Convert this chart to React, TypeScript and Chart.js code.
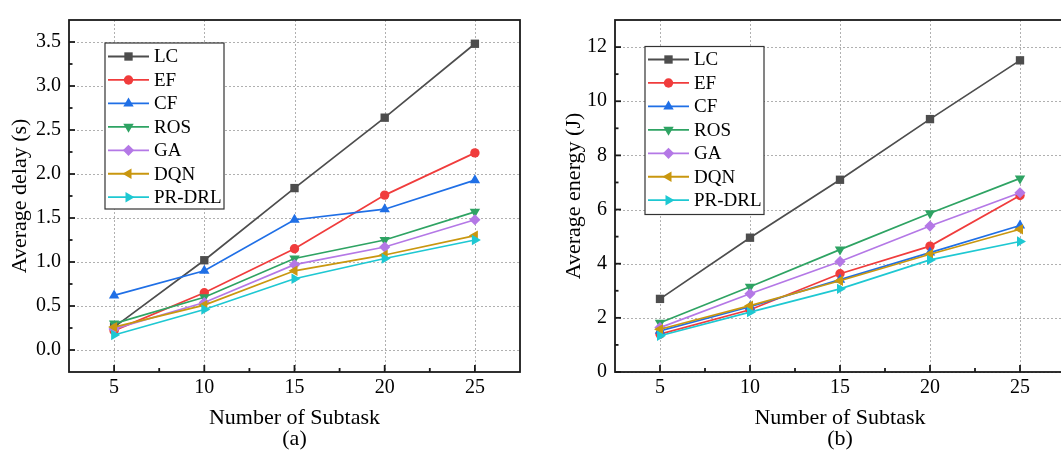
import React, { useEffect, useRef } from 'react';
import { Chart, registerables } from 'chart.js';

Chart.register(...registerables);

// ---------- data ----------
const subtasks = [5, 10, 15, 20, 25];
const xMinorTicks = [7.5, 12.5, 17.5, 22.5];
const seriesNames = ['LC', 'EF', 'CF', 'ROS', 'GA', 'DQN', 'PR-DRL'];

const delayLC = [0.26, 1.02, 1.84, 2.64, 3.48];
const delayEF = [0.22, 0.65, 1.15, 1.76, 2.24];
const delayCF = [0.62, 0.9, 1.48, 1.6, 1.93];
const delayROS = [0.3, 0.6, 1.04, 1.25, 1.57];
const delayGA = [0.24, 0.54, 0.97, 1.17, 1.48];
const delayDQN = [0.26, 0.51, 0.9, 1.08, 1.3];
const delayPRDRL = [0.17, 0.46, 0.81, 1.04, 1.25];

const energyLC = [2.7, 4.96, 7.1, 9.34, 11.51];
const energyEF = [1.4, 2.3, 3.63, 4.65, 6.52];
const energyCF = [1.52, 2.41, 3.41, 4.41, 5.41];
const energyROS = [1.82, 3.15, 4.52, 5.86, 7.15];
const energyGA = [1.64, 2.89, 4.08, 5.39, 6.62];
const energyDQN = [1.58, 2.45, 3.37, 4.35, 5.27];
const energyPRDRL = [1.34, 2.21, 3.07, 4.14, 4.82];

const delayTicks = [0, 0.5, 1, 1.5, 2, 2.5, 3, 3.5];
const delayMinorTicks = [0.25, 0.75, 1.25, 1.75, 2.25, 2.75, 3.25];
const energyTicks = [0, 2, 4, 6, 8, 10, 12];
const energyMinorTicks = [1, 3, 5, 7, 9, 11];

// ---------- styles ----------
const seriesColors = ['#4d4d4d', '#f03c3c', '#1f6fe6', '#2ea363', '#b478e6', '#c9970f', '#1ec8d2'];
const pointStyles = ['rect', 'circle', 'triangle', 'triangle', 'rectRot', 'triangle', 'triangle'];
const pointRotations = [0, 0, 0, 180, 0, 270, 90];
const pointRadii = [5.9, 4.7, 6, 6, 5.6, 6, 6];

const FONT = "'Liberation Serif'";
Chart.defaults.font.family = FONT;
Chart.defaults.color = '#000';

function drawMarker(ctx: CanvasRenderingContext2D, style: string, rot: number, r: number, x: number, y: number, color: string) {
  ctx.save();
  ctx.fillStyle = color;
  ctx.translate(x, y);
  ctx.rotate((rot * Math.PI) / 180);
  ctx.beginPath();
  if (style === 'rect') {
    const s = r * Math.SQRT1_2;
    ctx.rect(-s, -s, 2 * s, 2 * s);
  } else if (style === 'circle') {
    ctx.arc(0, 0, r, 0, Math.PI * 2);
  } else if (style === 'rectRot') {
    ctx.moveTo(0, -r);
    ctx.lineTo(r, 0);
    ctx.lineTo(0, r);
    ctx.lineTo(-r, 0);
    ctx.closePath();
  } else {
    for (let k = 0; k < 3; k++) {
      const a = -Math.PI / 2 + (k * 2 * Math.PI) / 3;
      const px = Math.cos(a) * r;
      const py = Math.sin(a) * r;
      if (k === 0) ctx.moveTo(px, py);
      else ctx.lineTo(px, py);
    }
    ctx.closePath();
  }
  ctx.fill();
  ctx.restore();
}

interface PanelSpec {
  series: number[][];
  yMin: number;
  yMax: number;
  yTicks: number[];
  yMinor: number[];
  fmt: (v: number) => string;
  yTitle: string;
  xTitle: string[];
  yTitlePad: number;
  padRight: number;
  yWidth: number;
  legendLeft: number;
  legendTop: number;
  legendW: number;
  legendH: number;
  legendFirstRow: number;
}

function buildConfig(spec: PanelSpec): any {
  const datasets = spec.series.map((vals, i) => ({
    label: seriesNames[i],
    data: vals.map((v, j) => ({ x: subtasks[j], y: v })),
    order: seriesNames.length - i,
    borderColor: seriesColors[i],
    backgroundColor: seriesColors[i],
    borderWidth: 1.7,
    pointStyle: pointStyles[i],
    rotation: pointRotations[i],
    pointRadius: pointRadii[i],
    pointBorderWidth: 0,
    pointBackgroundColor: seriesColors[i],
    tension: 0,
    fill: false,
  }));

  const decor = {
    id: 'decor',
    beforeDatasetsDraw(chart: any) {
      const { ctx, chartArea: a, scales } = chart;
      const xs = scales.x;
      const ys = scales.y;
      ctx.save();
      ctx.strokeStyle = '#b0b0b0';
      ctx.lineWidth = 1;
      ctx.setLineDash([2, 2]);
      subtasks.forEach((v) => {
        const px = Math.round(xs.getPixelForValue(v)) + 0.5;
        ctx.beginPath();
        ctx.moveTo(px, a.top);
        ctx.lineTo(px, a.bottom);
        ctx.stroke();
      });
      spec.yTicks.forEach((v) => {
        const py = Math.round(ys.getPixelForValue(v)) + 0.5;
        ctx.beginPath();
        ctx.moveTo(a.left, py);
        ctx.lineTo(a.right, py);
        ctx.stroke();
      });
      ctx.restore();
    },
    afterDatasetsDraw(chart: any) {
      const { ctx, chartArea: a, scales } = chart;
      const xs = scales.x;
      const ys = scales.y;
      ctx.save();
      ctx.strokeStyle = '#1a1a1a';
      ctx.lineWidth = 1.8;
      ctx.setLineDash([]);
      ctx.strokeRect(a.left, a.top, a.right - a.left, a.bottom - a.top);
      const tick = (x1: number, y1: number, x2: number, y2: number) => {
        ctx.beginPath();
        ctx.moveTo(x1, y1);
        ctx.lineTo(x2, y2);
        ctx.stroke();
      };
      subtasks.forEach((v) => {
        const px = xs.getPixelForValue(v);
        tick(px, a.bottom, px, a.bottom - 7);
      });
      xMinorTicks.forEach((v) => {
        const px = xs.getPixelForValue(v);
        tick(px, a.bottom, px, a.bottom - 4);
      });
      spec.yTicks.forEach((v) => {
        const py = ys.getPixelForValue(v);
        tick(a.left, py, a.left + 6, py);
      });
      spec.yMinor.forEach((v) => {
        const py = ys.getPixelForValue(v);
        tick(a.left, py, a.left + 3.5, py);
      });
      ctx.restore();

      // legend
      const bx = a.left + spec.legendLeft;
      const by = a.top + spec.legendTop;
      ctx.save();
      ctx.fillStyle = '#fff';
      ctx.fillRect(bx, by, spec.legendW, spec.legendH);
      ctx.strokeStyle = '#333';
      ctx.lineWidth = 1.2;
      ctx.strokeRect(bx, by, spec.legendW, spec.legendH);
      ctx.font = `19px ${FONT}`;
      ctx.textBaseline = 'middle';
      ctx.textAlign = 'left';
      chart.data.datasets.forEach((ds: any, i: number) => {
        const ry = by + spec.legendFirstRow + i * 23.45;
        ctx.strokeStyle = seriesColors[i];
        ctx.lineWidth = 1.8;
        ctx.beginPath();
        ctx.moveTo(bx + 3, ry);
        ctx.lineTo(bx + 44, ry);
        ctx.stroke();
        drawMarker(ctx, pointStyles[i], pointRotations[i], pointRadii[i], bx + 23.5, ry, seriesColors[i]);
        ctx.fillStyle = '#000';
        ctx.fillText(ds.label, bx + 49, ry + 1);
      });
      ctx.restore();
    },
  };

  return {
    type: 'line',
    data: { datasets },
    plugins: [decor],
    options: {
      animation: false,
      responsive: false,
      devicePixelRatio: 1,
      font: { family: FONT },
      layout: { padding: { left: 0, top: 7, right: spec.padRight, bottom: 0 } },
      plugins: { legend: { display: false }, tooltip: { enabled: false } },
      scales: {
        x: {
          type: 'linear',
          min: 2.5,
          max: 27.5,
          afterBuildTicks: (s: any) => {
            s.ticks = subtasks.map((v) => ({ value: v }));
          },
          afterFit: (s: any) => {
            s.height = 450 - 372;
          },
          ticks: { font: { size: 20, family: FONT }, color: '#000', padding: 4, maxRotation: 0, autoSkip: false },
          grid: { display: false, drawTicks: false },
          border: { display: false },
          title: {
            display: true,
            text: spec.xTitle,
            color: '#000',
            font: { size: 22, lineHeight: '21px', family: FONT },
            padding: { top: 0, bottom: 0 },
          },
        },
        y: {
          type: 'linear',
          min: spec.yMin,
          max: spec.yMax,
          afterBuildTicks: (s: any) => {
            s.ticks = spec.yTicks.map((v) => ({ value: v }));
          },
          afterFit: (s: any) => {
            s.width = spec.yWidth;
          },
          ticks: {
            font: { size: 20, family: FONT },
            color: '#000',
            padding: 8,
            autoSkip: false,
            callback: (v: any) => spec.fmt(Number(v)),
          },
          grid: { display: false, drawTicks: false },
          border: { display: false },
          title: {
            display: true,
            text: spec.yTitle,
            color: '#000',
            font: { size: 22, lineHeight: 1, family: FONT },
            padding: { top: spec.yTitlePad, bottom: 0 },
          },
        },
      },
    },
  };
}

const delaySpec: PanelSpec = {
  series: [delayLC, delayEF, delayCF, delayROS, delayGA, delayDQN, delayPRDRL],
  yMin: -0.25,
  yMax: 3.75,
  yTicks: delayTicks,
  yMinor: delayMinorTicks,
  fmt: (v) => v.toFixed(1),
  yTitle: 'Average delay (s)',
  xTitle: ['Number of Subtask', '(a)'],
  yTitlePad: 9,
  padRight: 10,
  yWidth: 69,
  legendLeft: 36,
  legendTop: 23,
  legendW: 119,
  legendH: 166,
  legendFirstRow: 13.5,
};

const energySpec: PanelSpec = {
  series: [energyLC, energyEF, energyCF, energyROS, energyGA, energyDQN, energyPRDRL],
  yMin: 0,
  yMax: 13,
  yTicks: energyTicks,
  yMinor: energyMinorTicks,
  fmt: (v) => String(v),
  yTitle: 'Average energy (J)',
  xTitle: ['Number of Subtask', '(b)'],
  yTitlePad: 33,
  padRight: 15,
  yWidth: 85,
  legendLeft: 30,
  legendTop: 26.5,
  legendW: 119,
  legendH: 168,
  legendFirstRow: 13,
};

function Panel({ spec, left, width }: { spec: PanelSpec; left: number; width: number }) {
  const ref = useRef<HTMLCanvasElement>(null);
  useEffect(() => {
    const chart = new Chart(ref.current as HTMLCanvasElement, buildConfig(spec));
    return () => chart.destroy();
  }, [spec]);
  return (
    <canvas
      ref={ref}
      width={width}
      height={450}
      style={{ position: 'absolute', left, top: 0, width, height: 450, display: 'block' }}
    />
  );
}

export default function App() {
  return (
    <div
      style={{
        position: 'absolute',
        left: 0,
        top: 0,
        width: 1061,
        height: 450,
        overflow: 'hidden',
        background: '#fff',
      }}
    >
      <Panel spec={delaySpec} left={0} width={530} />
      <Panel spec={energySpec} left={530} width={550} />
    </div>
  );
}
